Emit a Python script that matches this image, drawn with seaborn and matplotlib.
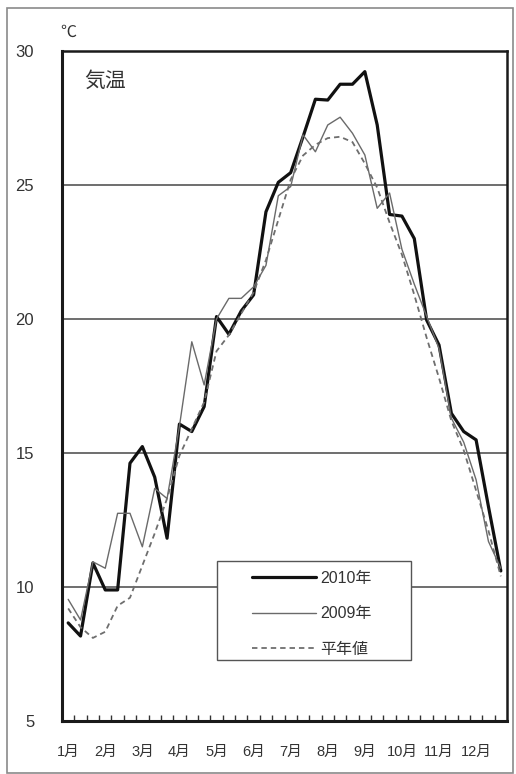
import numpy as np
import pandas as pd
import matplotlib
matplotlib.use("Agg")
import matplotlib.pyplot as plt
from matplotlib.patches import Rectangle
from matplotlib.lines import Line2D
import seaborn as sns

# 旬別平均気温 (36 periods: 上旬・中旬・下旬 for each month)
months = ["1月", "2月", "3月", "4月", "5月", "6月",
          "7月", "8月", "9月", "10月", "11月", "12月"]
period = list(range(36))

temp_2010 = [8.66, 8.17, 10.90, 9.89, 9.89, 14.62, 15.24, 14.10, 11.82,
             16.08, 15.80, 16.73, 20.09, 19.43, 20.30, 20.90, 24.00, 25.10,
             25.46, 26.80, 28.20, 28.17, 28.76, 28.76, 29.23, 27.24, 23.90,
             23.84, 23.00, 19.96, 19.03, 16.48, 15.80, 15.49, 13.00, 10.60]
temp_2009 = [9.54, 8.77, 10.94, 10.70, 12.75, 12.75, 11.50, 13.68, 13.30,
             16.00, 19.15, 17.54, 20.00, 20.77, 20.77, 21.20, 22.00, 24.60,
             24.94, 26.87, 26.24, 27.24, 27.53, 26.93, 26.12, 24.13, 24.70,
             22.60, 21.30, 20.10, 18.90, 16.30, 15.40, 14.00, 11.70, 10.70]
temp_normal = [9.20, 8.50, 8.10, 8.33, 9.30, 9.60, 10.80, 12.00, 13.30,
               14.90, 15.90, 16.90, 18.80, 19.40, 20.20, 21.00, 22.20, 23.70,
               25.20, 26.10, 26.50, 26.75, 26.80, 26.60, 25.80, 24.90, 23.60,
               22.40, 20.90, 19.30, 17.80, 16.20, 15.10, 13.60, 12.10, 10.40]
series_names = ["2010年", "2009年", "平年値"]
y_ticks = [5, 10, 15, 20, 25, 30]

df = pd.DataFrame({
    "period": period * 3,
    "temp": temp_2010 + temp_2009 + temp_normal,
    "series": [series_names[0]] * 36 + [series_names[1]] * 36 + [series_names[2]] * 36,
})

sns.set_style("white")
plt.rcParams["font.family"] = ["Liberation Sans", "Noto Sans CJK JP", "DejaVu Sans"]

W, H = 516, 774
fig = plt.figure(figsize=(W / 100, H / 100), dpi=100)
ax = fig.add_axes([62 / W, 1 - 721 / H, (507 - 62) / W, (721 - 51) / H])

styles = {
    series_names[0]: dict(color="#111111", lw=2.3, ls="-"),
    series_names[1]: dict(color="#6a6a6a", lw=1.0, ls="-"),
    series_names[2]: dict(color="#6e6e6e", lw=1.3, ls=(0, (3.0, 2.2))),
}
for name in series_names:
    st = styles[name]
    sns.lineplot(data=df[df["series"] == name], x="period", y="temp", ax=ax,
                 color=st["color"], linewidth=st["lw"], linestyle=st["ls"],
                 legend=False, zorder=3)

ax.set_xlim(-0.5, 35.5)
ax.set_ylim(5, 30)
ax.set_xlabel("")
ax.set_ylabel("")

# horizontal grid lines
for yv in y_ticks[1:-1]:
    ax.axhline(yv, color="#555555", lw=1.2, zorder=1)

ax.set_yticks(y_ticks)
ax.set_yticklabels([str(v) for v in y_ticks], fontsize=12, color="#333333")
ax.set_xticks(list(range(0, 36, 3)))
ax.set_xticklabels(months, fontsize=10.5, color="#333333")
ax.tick_params(axis="both", which="major", length=0)
ax.tick_params(axis="y", pad=20)
ax.tick_params(axis="x", pad=17)
ax.set_xticks(np.arange(0.5, 35, 1.0), minor=True)
ax.tick_params(axis="x", which="minor", direction="in", length=4, width=1.0,
               color="#333333", top=False, bottom=True)

for side, lw in [("left", 2.2), ("bottom", 2.2), ("top", 1.8), ("right", 1.8)]:
    ax.spines[side].set_visible(True)
    ax.spines[side].set_color("#1a1a1a")
    ax.spines[side].set_linewidth(lw)

# unit and panel title
fig.text(68 / W, 1 - 32 / H, "℃", fontsize=11.5, color="#333333",
         ha="center", va="center", family=["Noto Sans CJK JP", "DejaVu Sans"])
ax.text(0.050, 0.955, "気温", transform=ax.transAxes, fontsize=15,
        color="#333333", ha="left", va="center",
        family=["Noto Sans CJK JP", "DejaVu Sans"])

# legend box
x0 = (217 - 62) / 445
y0 = (721 - 660) / 670
ax.add_patch(Rectangle((x0, y0), (411 - 217) / 445, (660 - 561) / 670,
                       transform=ax.transAxes, facecolor="white",
                       edgecolor="#555555", lw=1.0, zorder=4))
handles = [Line2D([], [], color=styles[n]["color"], lw=styles[n]["lw"],
                  ls=styles[n]["ls"]) for n in series_names]
leg = ax.legend(handles, series_names, loc="upper left",
                bbox_to_anchor=((252 - 62) / 445, (721 - 571) / 670),
                frameon=False, fontsize=11.5, handlelength=4.0,
                handletextpad=0.3, labelspacing=1.28, borderpad=0,
                borderaxespad=0)
leg.set_zorder(5)
for t in leg.get_texts():
    t.set_color("#333333")

# outer frame
fig.add_artist(Rectangle((7 / W, 1.5 / H), (513 - 7) / W, (773 - 8.5) / H,
                         transform=fig.transFigure, fill=False,
                         edgecolor="#8a8a8a", lw=1.2))

fig.savefig("out.png", dpi=100, facecolor="white")
